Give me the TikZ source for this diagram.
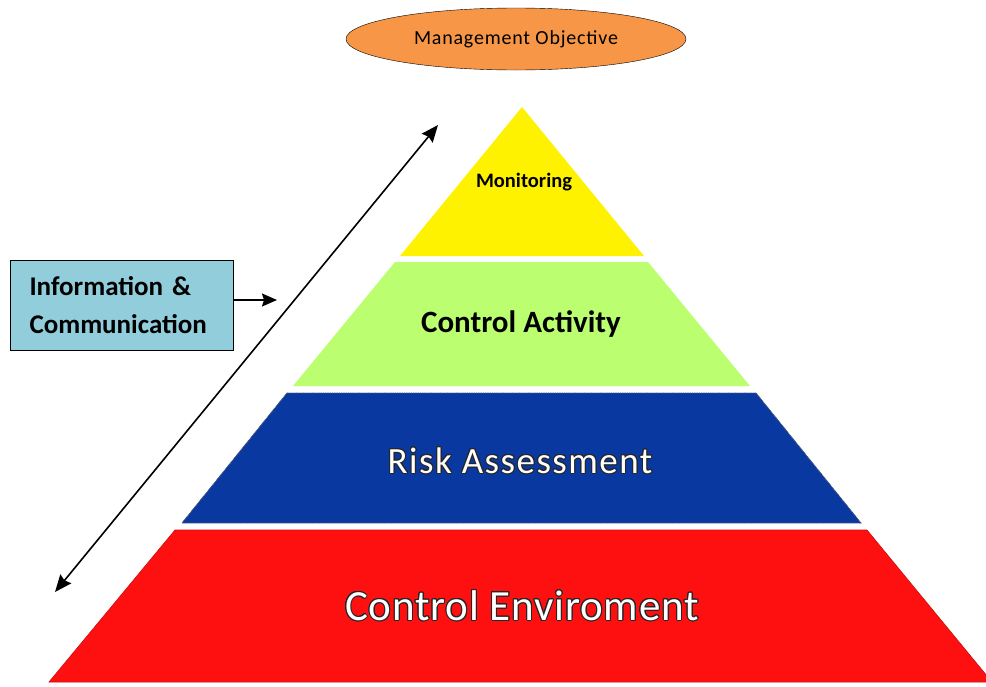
\documentclass[tikz,border=0pt]{standalone}
\usepackage{fontspec}
\setmainfont{Carlito}
\usepackage[copies]{contour}
\contourlength{1pt}
\usetikzlibrary{shapes.geometric, arrows.meta}
\definecolor{objorange}{RGB}{247,150,70}
\definecolor{infoblue}{RGB}{146,205,220}
\definecolor{monyellow}{RGB}{255,242,0}
\definecolor{actgreen}{RGB}{187,255,112}
\definecolor{riskblue}{RGB}{9,56,160}
\definecolor{envred}{RGB}{255,16,16}

\begin{document}
\begin{tikzpicture}[x=1pt,y=-1pt]
\clip (0,0) rectangle (986,686);
\fill[white] (0,0) rectangle (986,686);
% pyramid layers
\fill[monyellow] (522,107) -- (644,256) -- (400,256) -- cycle;
\fill[actgreen] (395,262) -- (648,262) -- (750,386) -- (293,386) -- cycle;
\draw[riskblue, fill = riskblue] (287,393) -- (756,393) -- (861,523) -- (182,523) -- cycle;
\draw[black!60, densely dotted, line width = 0.8] (287,393) -- (756,393) -- (861,523) -- (182,523) -- cycle;
\draw[envred!80!black, fill = envred, line width = 0.6] (175,530) -- (867,530) -- (992,682) -- (49,682) -- cycle;
% labels
\node (mon) at (524,182) {\fontsize{20.5}{24}\selectfont\bfseries Monitoring};
\node (act) at (521,324) {\fontsize{31}{36}\selectfont\bfseries Control Activity};
\node (risk) at (520,461) {\fontsize{37}{42}\selectfont\addfontfeatures{LetterSpace=4}\contour{black!85}{\textcolor{white}{Risk Assessment}}};
\node (env) at (522,606) {\fontsize{43}{50}\selectfont\addfontfeatures{LetterSpace=2}\contour{black!85}{\textcolor{white}{Control Enviroment}}};
% objective
\node (obj) [ellipse, draw, fill = objorange, minimum width = 340, minimum height = 62] at (516,39) {\fontsize{20}{22}\selectfont\addfontfeatures{LetterSpace=4}Management Objective};
% information box
\node (info) [draw, line width = 1, fill = infoblue, minimum width = 223, minimum height = 90, align = left, text width = 184, inner sep = 0, font = {\fontsize{27}{38}\selectfont\bfseries}] at (121.5,305)
{Information \&\\Communication};
\coordinate (infotip) at (277,300);
\draw [-{Stealth[length = 15pt, width = 13pt, inset = 2pt]}, line width = 1.6] (info.east |- infotip) -- (infotip);
\coordinate (flowtop) at (438,125);
\coordinate (flowbot) at (55,592);
\draw [{Stealth[length = 17pt, width = 14pt, inset = 2pt]}-{Stealth[length = 17pt, width = 14pt, inset = 2pt]}, line width = 1.6] (flowbot) -- (flowtop);
\end{tikzpicture}
\end{document}
